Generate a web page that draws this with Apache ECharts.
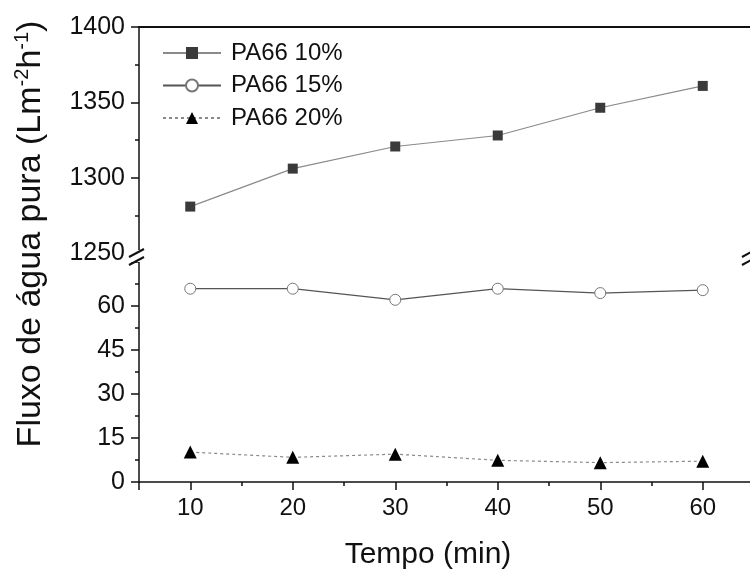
<!DOCTYPE html>
<html>
<head>
<meta charset="utf-8">
<script src="https://cdn.jsdelivr.net/npm/echarts@6/dist/echarts.min.js"></script>
<style>html,body{margin:0;padding:0;background:#fff}#c{width:750px;height:569px}</style>
</head>
<body>
<div id="c"></div>
<script>
const times = [10, 20, 30, 40, 50, 60];
const pa66_10 = [1280.8, 1306.0, 1320.7, 1328.0, 1346.4, 1360.9];
const pa66_15 = [65.9, 65.9, 62.1, 65.9, 64.4, 65.4];
const pa66_20 = [10.2, 8.4, 9.5, 7.4, 6.6, 7.1];
const seriesNames = ['PA66 10%', 'PA66 15%', 'PA66 20%'];
const topTicks = [1250, 1300, 1350, 1400];
const bottomTicks = [0, 15, 30, 45, 60];

const FONT = 'Liberation Sans, Arial, sans-serif';
const pairs = arr => times.map((t, i) => [t, arr[i]]);

const chart = echarts.init(document.getElementById('c'), null, {renderer: 'canvas'});

const commonX = {
  type: 'value', min: 5, max: 65,
  splitLine: {show: false}
};
const yCommon = {
  type: 'value',
  splitLine: {show: false},
  axisLine: {show: true, onZero: false, lineStyle: {color: '#111', width: 1.5}},
  axisTick: {show: true, inside: false, length: 8, lineStyle: {color: '#111', width: 1.5}},
  minorTick: {show: true, splitNumber: 2, length: 4, lineStyle: {color: '#111', width: 1.5}},
  axisLabel: {color: '#111', fontSize: 25, fontFamily: FONT, margin: 14}
};

const option = {
  backgroundColor: '#fff',
  animation: false,
  grid: [
    {left: 139, top: 27, right: -4, height: 226, outerBoundsMode: 'none', containLabel: false},
    {left: 139, top: 262, right: -4, height: 220, outerBoundsMode: 'none', containLabel: false}
  ],
  xAxis: [
    Object.assign({}, commonX, {
      gridIndex: 0, position: 'top',
      axisLine: {show: true, onZero: false, lineStyle: {color: '#111', width: 2}},
      axisTick: {show: false}, axisLabel: {show: false}
    }),
    Object.assign({}, commonX, {
      gridIndex: 1, position: 'bottom',
      axisLine: {show: true, onZero: false, lineStyle: {color: '#111', width: 1.5}},
      axisTick: {show: true, inside: false, length: 8, lineStyle: {color: '#111', width: 1.5}},
      minorTick: {show: true, splitNumber: 2, length: 4, lineStyle: {color: '#111', width: 1.5}},
      axisLabel: {
        color: '#111', fontSize: 24, fontFamily: FONT, margin: 14,
        formatter: v => (times.indexOf(v) >= 0 ? String(v) : '')
      }
    })
  ],
  yAxis: [
    Object.assign({}, yCommon, {
      gridIndex: 0, min: 1250, max: 1400, interval: 50,
      axisLabel: Object.assign({}, yCommon.axisLabel, {
        formatter: v => (topTicks.indexOf(v) >= 0 ? String(v) : '')
      })
    }),
    Object.assign({}, yCommon, {
      gridIndex: 1, min: 0, max: 75, interval: 15,
      axisLabel: Object.assign({}, yCommon.axisLabel, {
        formatter: v => (bottomTicks.indexOf(v) >= 0 ? String(v) : '')
      })
    })
  ],
  legend: {
    orient: 'vertical', left: 157, top: 36,
    itemWidth: 58, itemHeight: 15, itemGap: 8.5,
    textStyle: {fontSize: 24, fontFamily: FONT, color: '#111', lineHeight: 24, padding: [0, 0, 0, 5]},
    data: seriesNames
  },
  series: [
    {
      name: seriesNames[0], type: 'line', xAxisIndex: 0, yAxisIndex: 0,
      data: pairs(pa66_10), symbol: 'rect', symbolSize: 10,
      itemStyle: {color: '#3a3a3a', borderColor: '#3a3a3a', borderWidth: 0},
      lineStyle: {color: '#8a8a8a', width: 1.2}
    },
    {
      name: seriesNames[1], type: 'line', xAxisIndex: 1, yAxisIndex: 1,
      data: pairs(pa66_15), symbol: 'circle', symbolSize: 11,
      itemStyle: {color: '#fff', borderColor: '#777', borderWidth: 1},
      lineStyle: {color: '#555', width: 1.2}
    },
    {
      name: seriesNames[2], type: 'line', xAxisIndex: 1, yAxisIndex: 1,
      data: pairs(pa66_20), symbol: 'triangle', symbolSize: 13,
      itemStyle: {color: '#000', borderColor: '#000', borderWidth: 0},
      lineStyle: {color: '#8a8a8a', width: 1.2, type: [3, 3]}
    }
  ],
  graphic: [
    {type: 'rect', shape: {x: 126, y: 250, width: 22, height: 12}, style: {fill: '#fff'}, z: 100},
    {type: 'line', shape: {x1: 129, y1: 257, x2: 144, y2: 249}, style: {stroke: '#111', lineWidth: 2}, z: 101},
    {type: 'line', shape: {x1: 129, y1: 265, x2: 144, y2: 257}, style: {stroke: '#111', lineWidth: 2}, z: 101},
    {type: 'line', shape: {x1: 742, y1: 257, x2: 757, y2: 249}, style: {stroke: '#111', lineWidth: 2}, z: 101},
    {type: 'line', shape: {x1: 742, y1: 265, x2: 757, y2: 257}, style: {stroke: '#111', lineWidth: 2}, z: 101},
    {
      type: 'text', x: 428, y: 555, z: 100,
      style: {text: 'Tempo (min)', fontSize: 30, fontFamily: FONT, fill: '#111', align: 'center', verticalAlign: 'middle'}
    },
    {
      type: 'text', x: 30, y: 234, rotation: Math.PI / 2, z: 100,
      style: {
        text: '{n|Fluxo de água pura (Lm}{s|-2}{n|h}{s|-1}{n|)}',
        align: 'center', verticalAlign: 'middle', fill: '#111',
        rich: {
          n: {fontSize: 34, fontFamily: FONT, fill: '#111', lineHeight: 36, verticalAlign: 'bottom'},
          s: {fontSize: 20, fontFamily: FONT, fill: '#111', lineHeight: 36, verticalAlign: 'top', padding: [0, 0, 15, 0]}
        }
      }
    }
  ]
};
chart.setOption(option);
</script>
</body>
</html>
